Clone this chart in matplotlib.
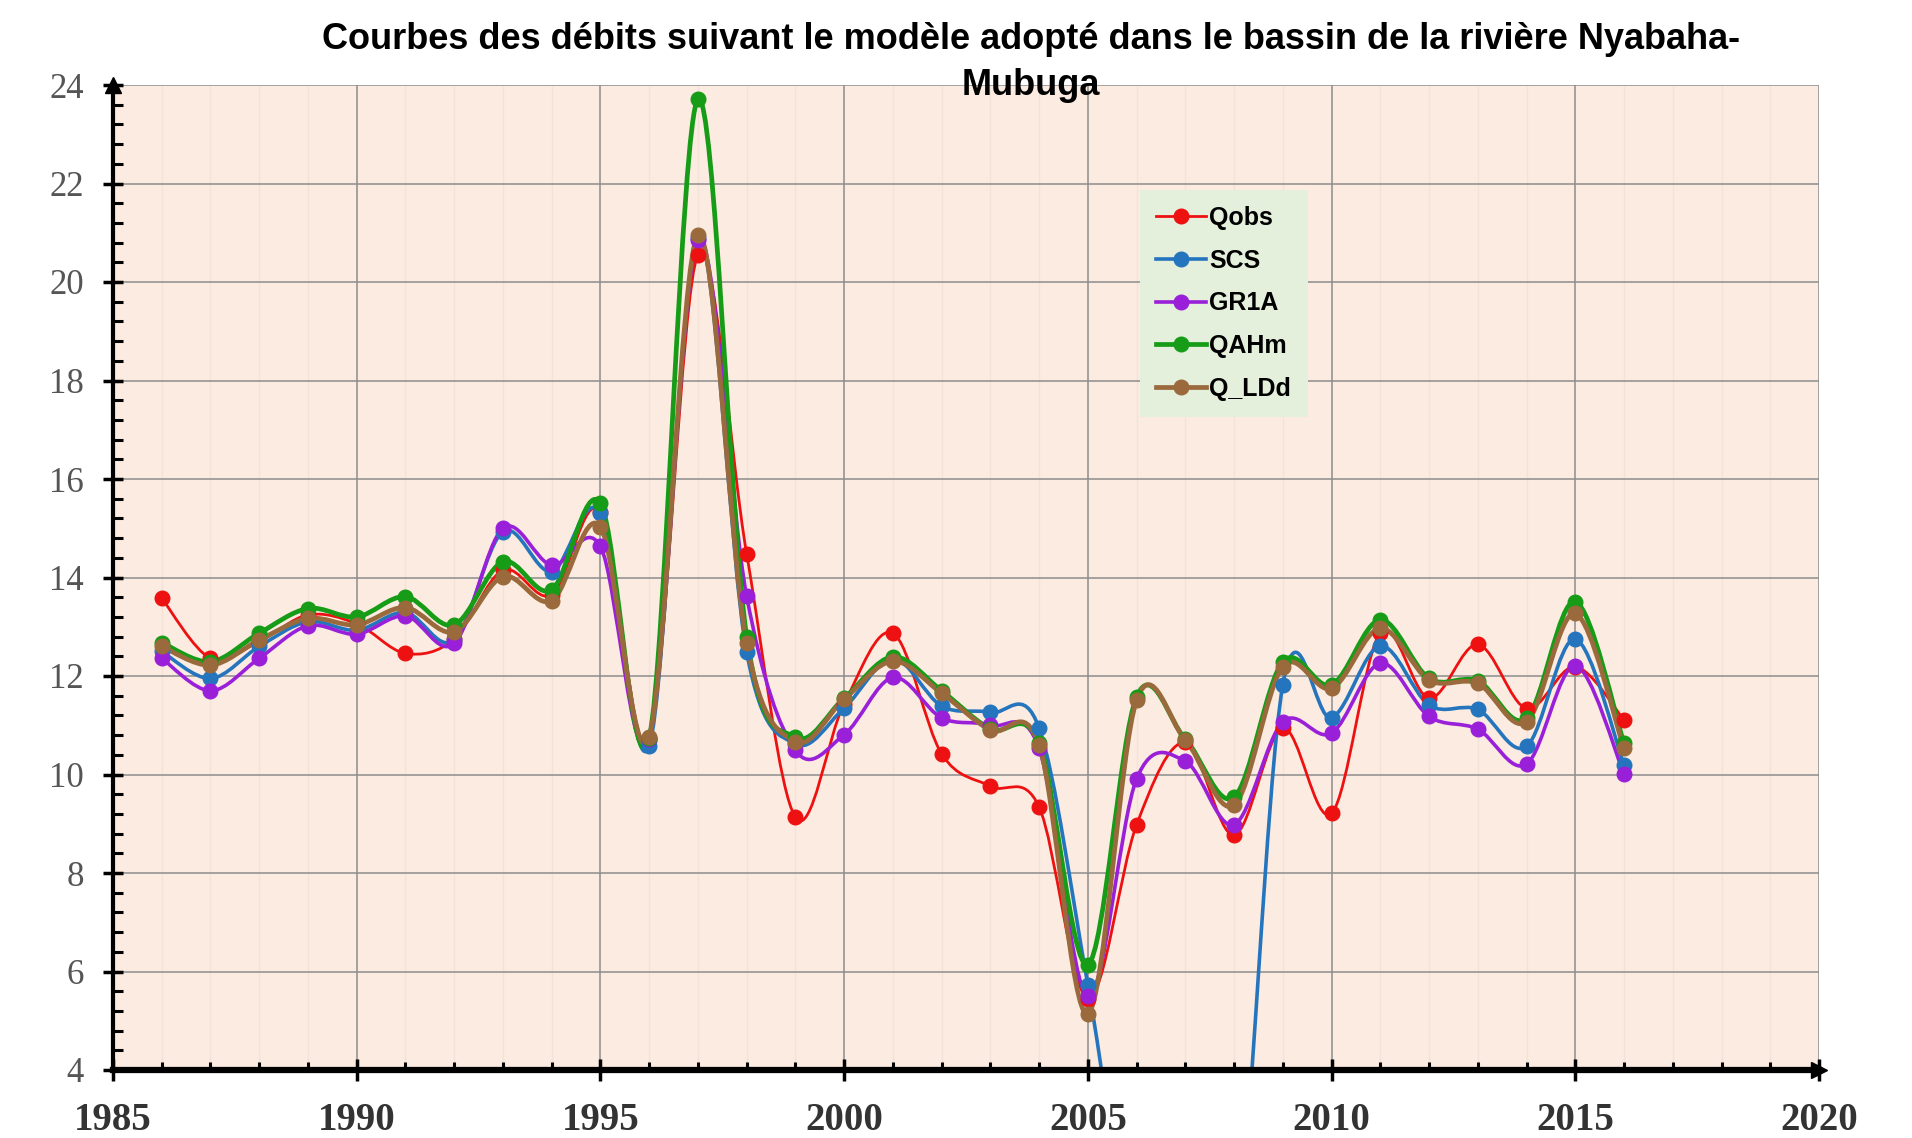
import numpy as np
import matplotlib.pyplot as plt
from matplotlib.path import Path
from matplotlib.patches import PathPatch
from matplotlib.lines import Line2D
from matplotlib.ticker import MultipleLocator

# -------------------------
# Données
# -------------------------
years = np.arange(1986, 2017)

q_obs = [13.58, 12.36, 12.70, 13.24, 13.06, 12.46, 12.75, 14.15, 13.65, 15.34,
         10.70, 20.55, 14.48, 9.13, 11.44, 12.87, 10.42, 9.76, 9.34, 5.45,
         8.98, 10.65, 8.77, 10.94, 9.21, 12.87, 11.55, 12.64, 11.34, 12.19, 11.11]
scs = [12.50, 11.95, 12.60, 13.10, 12.93, 13.29, 12.73, 14.93, 14.12, 15.30,
       10.58, 20.90, 12.48, 10.62, 11.35, 12.35, 11.39, 11.26, 10.94, 5.73,
       0.0, 0.0, 0.0, 11.82, 11.15, 12.61, 11.41, 11.32, 10.57, 12.75, 10.19]
gr1a = [12.36, 11.70, 12.36, 13.02, 12.85, 13.22, 12.66, 15.00, 14.25, 14.63,
        10.72, 20.85, 13.62, 10.49, 10.81, 11.97, 11.15, 11.00, 10.53, 5.50,
        9.91, 10.27, 8.98, 11.07, 10.84, 12.26, 11.18, 10.92, 10.21, 12.21, 10.01]
qahm = [12.68, 12.29, 12.87, 13.37, 13.20, 13.61, 13.04, 14.32, 13.75, 15.51,
        10.75, 23.71, 12.80, 10.76, 11.55, 12.39, 11.70, 10.92, 10.64, 6.14,
        11.58, 10.72, 9.54, 12.29, 11.82, 13.14, 11.95, 11.90, 11.14, 13.51, 10.63]
q_ldd = [12.60, 12.22, 12.73, 13.17, 13.04, 13.39, 12.90, 14.02, 13.53, 15.03,
         10.76, 20.95, 12.66, 10.67, 11.53, 12.30, 11.65, 10.90, 10.60, 5.14,
         11.51, 10.70, 9.38, 12.19, 11.75, 12.97, 11.92, 11.85, 11.07, 13.27, 10.53]

labels = ["Qobs", "SCS", "GR1A", "QAHm", "Q_LDd"]
colors = ["#EE1111", "#2475BE", "#9A1FD8", "#169C16", "#9A6A3C"]
widths = [2.0, 2.6, 2.6, 3.4, 3.4]

title = "Courbes des débits suivant le modèle adopté dans le bassin de la rivière Nyabaha-\nMubuga"


# courbe lissée type Excel (Bézier cubique)
def smooth_path(x, y):
    x = np.asarray(x, float)
    y = np.asarray(y, float)
    n = len(x)
    verts = [(x[0], y[0])]
    codes = [Path.MOVETO]
    for i in range(n - 1):
        p0 = max(i - 1, 0)
        p3 = min(i + 2, n - 1)
        c1 = (x[i] + (x[i + 1] - x[p0]) / 6, y[i] + (y[i + 1] - y[p0]) / 6)
        c2 = (x[i + 1] - (x[p3] - x[i]) / 6, y[i + 1] - (y[p3] - y[i]) / 6)
        verts += [c1, c2, (x[i + 1], y[i + 1])]
        codes += [Path.CURVE4] * 3
    return Path(verts, codes)


fig = plt.figure(figsize=(19.12, 11.38), dpi=100)
ax = fig.add_axes([113 / 1912, 1 - 1070 / 1138, (1819 - 113) / 1912, (1070 - 85) / 1138])
ax.set_facecolor("#FBEBE0")

series = [q_obs, scs, gr1a, qahm, q_ldd]
handles = []
for s, lab, c, lw in zip(series, labels, colors, widths):
    patch = PathPatch(smooth_path(years, s), fill=False, edgecolor=c, lw=lw,
                      capstyle="round", joinstyle="round", zorder=3)
    ax.add_patch(patch)
    ax.plot(years, s, "o", color=c, ms=10.5, zorder=4)
    handles.append(Line2D([], [], color=c, lw=lw, marker="o", ms=10.5))

ax.set_xlim(1985, 2020)
ax.set_ylim(4, 24)

ax.xaxis.set_major_locator(MultipleLocator(5))
ax.xaxis.set_minor_locator(MultipleLocator(1))
ax.yaxis.set_major_locator(MultipleLocator(2))
ax.yaxis.set_minor_locator(MultipleLocator(0.4))

ax.grid(which="major", color="#8c8c8c", lw=1.1)
ax.grid(which="minor", axis="x", color="#f2e2d8", lw=1.0)
ax.set_axisbelow(True)

for side in ["top", "right"]:
    ax.spines[side].set_visible(False)
ax.spines["left"].set_linewidth(3)
ax.spines["bottom"].set_linewidth(4.5)
ax.spines["left"].set_zorder(5)
ax.spines["bottom"].set_zorder(5)

ax.tick_params(axis="y", which="major", direction="inout", length=14, width=2.5,
               pad=14, labelsize=25, labelcolor="#555555")
ax.tick_params(axis="y", which="minor", direction="in", length=7, width=2.2)
ax.tick_params(axis="x", which="major", direction="inout", length=16, width=2.5,
               pad=15, labelsize=28)
ax.tick_params(axis="x", which="minor", direction="in", length=6, width=2.2)
for t in ax.get_yticklabels():
    t.set_fontfamily("Liberation Serif")
for t in ax.get_xticklabels():
    t.set_fontfamily("Liberation Serif")
    t.set_fontweight("bold")
    t.set_color("#333333")

# flèches des axes
ax.plot(0, 1, marker="^", ms=11, color="black", transform=ax.transAxes, clip_on=False, zorder=6)
ax.plot(1, 0, marker=">", ms=11, color="black", transform=ax.transAxes, clip_on=False, zorder=6)

leg = fig.legend(handles, labels, loc="upper left", bbox_to_anchor=(1127 / 1912, 1 - 177 / 1138),
                 prop={"family": "Liberation Sans", "weight": "bold", "size": 18},
                 frameon=True, facecolor="#E4EFDC", edgecolor="none", fancybox=False,
                 framealpha=1, handlelength=2.0, handletextpad=0.15, labelspacing=0.75,
                 borderpad=0.65)

fig.text(0.539, 1 - 22 / 1138, title, ha="center", va="top", fontsize=26,
         fontweight="bold", family="Liberation Sans", linespacing=1.4)

fig.savefig("out.png", dpi=100)
